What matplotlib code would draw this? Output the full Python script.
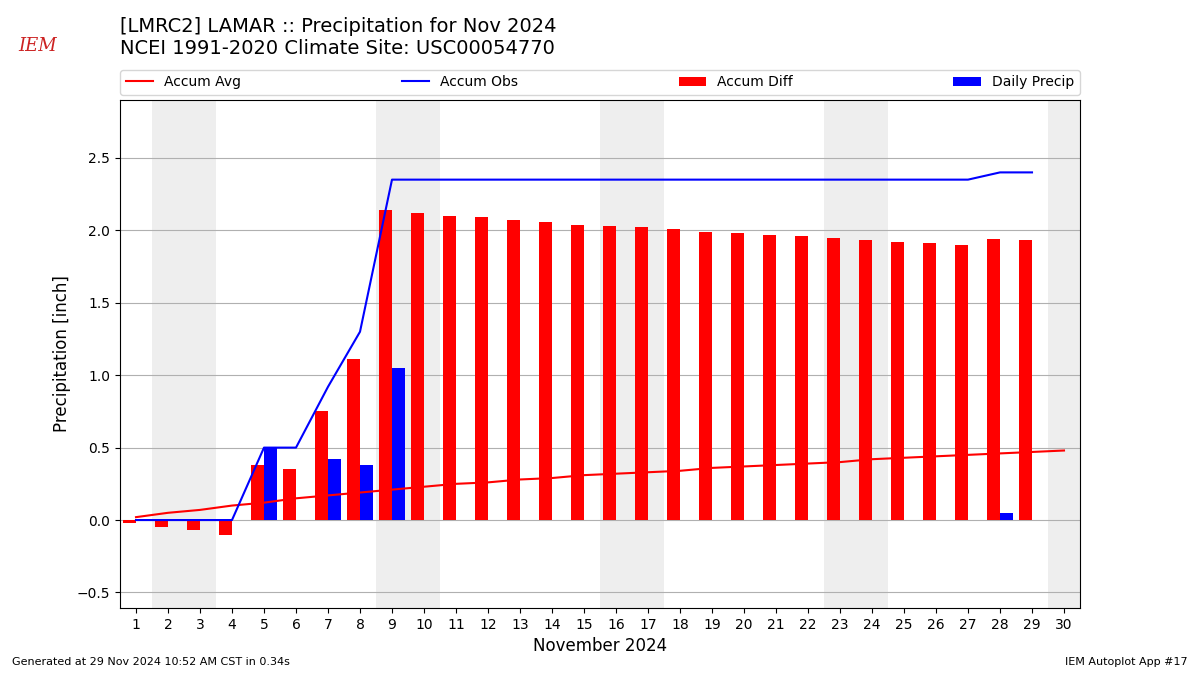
import numpy as np
import matplotlib
matplotlib.use('Agg')
import matplotlib.pyplot as plt

days = list(range(1, 31))
accum_avg = [0.02, 0.05, 0.07, 0.10, 0.12, 0.15, 0.17, 0.19, 0.21, 0.23,
             0.25, 0.26, 0.28, 0.29, 0.31, 0.32, 0.33, 0.34, 0.36, 0.37,
             0.38, 0.39, 0.40, 0.42, 0.43, 0.44, 0.45, 0.46, 0.47, 0.48]
obs_days = list(range(1, 30))
accum_obs = [0.0, 0.0, 0.0, 0.0, 0.50, 0.50, 0.92, 1.30, 2.35, 2.35,
             2.35, 2.35, 2.35, 2.35, 2.35, 2.35, 2.35, 2.35, 2.35, 2.35,
             2.35, 2.35, 2.35, 2.35, 2.35, 2.35, 2.35, 2.40, 2.40]
accum_diff = [-0.02, -0.05, -0.07, -0.10, 0.38, 0.35, 0.75, 1.11, 2.14, 2.12,
              2.10, 2.09, 2.07, 2.06, 2.04, 2.03, 2.02, 2.01, 1.99, 1.98,
              1.97, 1.96, 1.95, 1.93, 1.92, 1.91, 1.90, 1.94, 1.93]
daily_precip = [0.0, 0.0, 0.0, 0.0, 0.50, 0.0, 0.42, 0.38, 1.05, 0.0,
                0.0, 0.0, 0.0, 0.0, 0.0, 0.0, 0.0, 0.0, 0.0, 0.0,
                0.0, 0.0, 0.0, 0.0, 0.0, 0.0, 0.0, 0.05, 0.0]
weekend_days = [2, 3, 9, 10, 16, 17, 23, 24, 30]

fig = plt.figure(figsize=(12, 6.75), dpi=100)
ax = fig.add_axes([0.1, 0.0993, 0.8, 0.7526])

for d in weekend_days:
    ax.axvspan(d - 0.5, d + 0.5, color='#eeeeee', zorder=0, lw=0)

ax.plot(days, accum_avg, color='r', label='Accum Avg', zorder=4)
ax.plot(obs_days, accum_obs, color='b', label='Accum Obs', zorder=4)
ax.bar(np.array(obs_days) - 0.4, accum_diff, width=0.4, align='edge',
       color='r', label='Accum Diff', zorder=3)
ax.bar(obs_days, daily_precip, width=0.4, align='edge',
       color='b', label='Daily Precip', zorder=3)

ax.set_xlim(0.5, 30.5)
ax.set_ylim(-0.607, 2.9)
ax.set_xticks(days)
ax.set_xticklabels([str(d) for d in days])
ax.grid(axis='y', color='#b0b0b0', zorder=1)
ax.set_axisbelow(True)
ax.set_xlabel('November 2024', fontsize=12)
ax.set_ylabel('Precipitation [inch]', fontsize=12)

ax.legend(loc='lower left', bbox_to_anchor=(0, 1.01, 1, 0.05), ncol=4,
          mode='expand', borderaxespad=0, fontsize=10)

fig.text(0.1, 0.975, '[LMRC2] LAMAR :: Precipitation for Nov 2024\n'
         'NCEI 1991-2020 Climate Site: USC00054770',
         ha='left', va='top', fontsize=14)
fig.text(0.031, 0.932, 'IEM', color='#cc2222', fontsize=13, style='italic',
         family='DejaVu Serif', ha='center', va='center')
fig.text(0.01, 0.012, 'Generated at 29 Nov 2024 10:52 AM CST in 0.34s',
         fontsize=8, ha='left', va='bottom')
fig.text(0.99, 0.012, 'IEM Autoplot App #17', fontsize=8,
         ha='right', va='bottom')

fig.savefig('out.png', dpi=100)
